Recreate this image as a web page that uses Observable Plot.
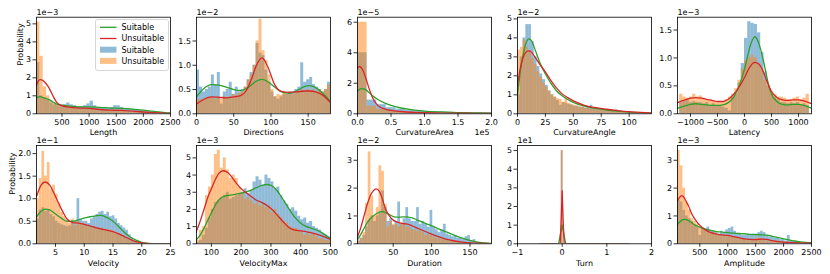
<!DOCTYPE html>
<html><head><meta charset="utf-8">
<script src="https://cdn.jsdelivr.net/npm/d3@7"></script>
<script src="https://cdn.jsdelivr.net/npm/@observablehq/plot@0.6"></script>
<style>
body{margin:0;background:#fff;}
#wrap{position:relative;width:830px;height:274px;font-family:"DejaVu Sans";overflow:hidden;background:#fff;}
#wrap svg{position:absolute;overflow:visible;}
</style></head><body><div id="wrap"></div>
<script>
// ---------- Series names ----------
const seriesNames = ["Suitable", "Unsuitable"];

// ---------- Length (×1e-3) ----------
const lengthBins = {lo: 30, w: 61.75};
const lengthSuitable = [2.85,1.0,0.9,0.75,0.6,0.5,0.45,0.45,0.5,0.6,0.5,0.45,0.4,0.4,0.45,0.55,0.7,0.45,0.35,0.35,0.35,0.3,0.35,0.45,0.45,0.35,0.3,0.3,0.25,0.22,0.2,0.18,0.15,0.12,0.1,0.1,0.08,0.06,0.05,0.04];
const lengthUnsuitable = [5.1,3.2,1.5,1.0,0.7,0.55,0.45,0.4,0.42,0.45,0.38,0.35,0.3,0.3,0.28,0.3,0.35,0.25,0.2,0.18,0.15,0.15,0.18,0.2,0.22,0.2,0.15,0.12,0.1,0.1,0.08,0.08,0.07,0.06,0.05,0.05,0.04,0.03,0.03,0.02];
const lengthKdeX = [30,60,100,150,200,250,300,350,400,500,600,700,800,1000,1200,1400,1600,1800,2000,2200,2400,2500];
const lengthKdeSuitable = [0.88,0.93,0.95,0.9,0.85,0.8,0.72,0.62,0.54,0.48,0.44,0.41,0.39,0.38,0.36,0.32,0.3,0.26,0.2,0.13,0.07,0.05];
const lengthKdeUnsuitable = [1.6,1.8,1.9,1.85,1.7,1.5,1.2,0.9,0.65,0.45,0.38,0.35,0.32,0.3,0.24,0.2,0.19,0.15,0.1,0.06,0.03,0.02];
const lengthXTicks = [500,1000,1500,2000,2500];
const lengthYTicks = [0,1,2,3,4,5];

// ---------- Directions (×1e-2) ----------
const directionsBins = {lo: 0, w: 4};
const directionsSuitable = [0.9,0.55,0.45,0.5,0.55,0.8,0.6,0.85,0.2,0.45,0.5,0.65,0.4,0.55,0.45,0.5,0.55,0.7,0.85,1.0,1.45,1.25,1.2,0.9,0.65,0.45,0.35,0.3,0.35,0.4,0.4,0.45,0.45,0.5,0.55,1.05,0.65,0.7,0.75,0.6,0.55,0.5,0.45,0.5,0.65];
const directionsUnsuitable = [0.3,0.28,0.3,0.32,0.33,0.35,0.3,0.35,0.3,0.35,0.33,0.35,0.4,0.38,0.42,0.45,0.55,0.7,0.8,1.0,1.5,1.95,1.3,1.1,0.8,0.5,0.35,0.4,0.38,0.42,0.4,0.45,0.4,0.45,0.45,0.5,0.45,0.5,0.48,0.5,0.45,0.5,0.45,0.5,0.6];
const directionsKdeX = [0,10,20,30,40,50,60,67,74,80,88,96,105,114,125,135,145,152,160,170,180];
const directionsKdeSuitable = [0.35,0.52,0.6,0.59,0.55,0.5,0.48,0.52,0.6,0.67,0.71,0.66,0.55,0.45,0.42,0.48,0.56,0.58,0.54,0.42,0.25];
const directionsKdeUnsuitable = [0.2,0.3,0.35,0.34,0.33,0.35,0.38,0.48,0.72,0.98,1.15,0.96,0.6,0.46,0.44,0.45,0.47,0.47,0.45,0.38,0.23];
const directionsXTicks = [0,50,100,150];
const directionsYTicks = [0,0.5,1.0,1.5];

// ---------- CurvatureArea (x ×1e5, y ×1e-5) ----------
const curvAreaBins = {lo: 0, w: 0.143};
const curvAreaSuitable = [4.0,0.9,0.6,0.4,0.3,0.22,0.18,0.15,0.12,0.1,0.08,0.07,0.06,0.05];
const curvAreaUnsuitable = [6.0,0.5,0.3,0.2,0.12,0.1,0.08,0.06,0.05,0.04,0.03,0.03,0.02,0.02];
const curvAreaKdeX = [0,0.03,0.075,0.12,0.17,0.22,0.3,0.4,0.5,0.65,0.8,1.0,1.25,1.5,1.75,2.0];
const curvAreaKdeSuitable = [1.48,1.6,1.65,1.58,1.4,1.2,0.95,0.72,0.55,0.38,0.27,0.18,0.12,0.08,0.06,0.05];
const curvAreaKdeUnsuitable = [3.0,3.1,2.9,2.4,1.7,1.1,0.55,0.32,0.22,0.15,0.1,0.07,0.05,0.04,0.03,0.02];
const curvAreaXTicks = [0,0.5,1.0,1.5,2.0];
const curvAreaYTicks = [0,2,4,6];

// ---------- CurvatureAngle (×1e-2) ----------
const curvAngleBins = {lo: 0, w: 2.5};
const curvAngleSuitable = [1.0,3.0,4.0,4.7,4.7,3.8,3.0,2.5,2.1,1.8,1.5,1.2,1.0,0.85,0.7,0.45,0.6,0.55,0.5,0.45,0.4,0.4,0.35,0.35,0.3,0.35,0.45,0.3,0.25,0.25,0.2,0.2,0.18,0.15,0.15,0.2,0.12,0.1,0.1,0.08,0.08,0.06,0.05,0.05,0.04,0.03,0.03,0.02];
const curvAngleUnsuitable = [3.35,3.5,3.9,3.5,3.3,2.9,2.6,2.2,1.9,1.6,1.4,1.2,1.0,0.9,0.8,0.75,0.6,0.8,0.55,0.5,0.45,0.4,0.35,0.35,0.3,0.3,0.25,0.3,0.25,0.2,0.22,0.2,0.18,0.15,0.15,0.12,0.1,0.1,0.12,0.08,0.08,0.06,0.06,0.05,0.04,0.04,0.03,0.03];
const curvAngleKdeX = [0,2.5,5,7.5,10,12.5,15,20,25,30,35,40,45,50,60,70,80,90,100,110,120];
const curvAngleKdeSuitable = [1.0,2.2,3.1,3.7,3.95,3.85,3.5,2.7,2.1,1.6,1.2,0.95,0.75,0.6,0.4,0.28,0.2,0.14,0.09,0.05,0.03];
const curvAngleKdeUnsuitable = [1.5,2.4,2.95,3.25,3.32,3.25,3.05,2.6,2.2,1.75,1.35,1.05,0.85,0.68,0.45,0.32,0.24,0.17,0.11,0.07,0.04];
const curvAngleXTicks = [0,25,50,75,100];
const curvAngleYTicks = [0,1,2,3,4,5];

// ---------- Latency (×1e-3) ----------
const latencyBins = {lo: -1200, w: 60};
const latencySuitable = [0.2,0.22,0.25,0.2,0.22,0.2,0.2,0.18,0.2,0.15,0.18,0.15,0.15,0.12,0.1,0.05,0.3,0.35,0.55,0.9,1.35,1.65,1.62,1.6,1.45,1.1,0.75,0.5,0.35,0.3,0.25,0.2,0.2,0.18,0.2,0.18,0.2,0.15,0.18,0.15];
const latencyUnsuitable = [0.35,0.3,0.28,0.3,0.35,0.3,0.32,0.28,0.25,0.25,0.22,0.2,0.2,0.22,0.25,0.3,0.35,0.45,0.6,0.8,0.95,1.0,1.05,1.0,0.9,0.8,0.6,0.5,0.4,0.35,0.3,0.3,0.28,0.25,0.25,0.28,0.3,0.25,0.28,0.35];
const latencyKdeX = [-1240,-1100,-1000,-900,-800,-700,-600,-500,-400,-300,-200,-100,0,50,100,150,190,250,300,350,400,450,500,600,700,800,900,1000,1100,1240];
const latencyKdeSuitable = [0.1,0.14,0.17,0.18,0.17,0.16,0.15,0.15,0.16,0.2,0.3,0.5,0.8,1.0,1.2,1.33,1.38,1.3,1.15,0.95,0.72,0.5,0.35,0.22,0.17,0.16,0.17,0.17,0.15,0.1];
const latencyKdeUnsuitable = [0.2,0.25,0.28,0.29,0.28,0.26,0.24,0.22,0.22,0.26,0.35,0.48,0.65,0.75,0.84,0.9,0.92,0.9,0.85,0.75,0.62,0.5,0.4,0.29,0.25,0.24,0.25,0.25,0.23,0.18];
const latencyXTicks = [-1000,-500,0,500,1000];
const latencyYTicks = [0,0.5,1.0,1.5];

// ---------- Velocity (×1e-1) ----------
const velocityBins = {lo: 1.7, w: 0.47};
const velocitySuitable = [0.55,0.75,0.8,0.72,0.75,0.65,0.6,0.5,0.45,0.42,0.4,0.38,0.4,0.45,0.5,1.0,0.55,0.5,0.5,0.45,0.55,0.6,0.65,0.7,0.72,0.65,0.7,0.6,0.62,0.55,0.45,0.4,0.35,0.3,0.2,0.12,0.06,0.03,0.02,0.01,0,0,0,0,0,0];
const velocityUnsuitable = [1.0,1.45,2.05,1.5,1.8,1.2,1.3,1.1,0.9,0.7,0.6,0.5,0.45,0.55,0.4,0.5,0.45,0.45,0.4,0.38,0.35,0.38,0.35,0.33,0.35,0.3,0.32,0.3,0.28,0.25,0.22,0.2,0.15,0.12,0.1,0.06,0.04,0.02,0.01,0,0,0,0,0,0,0];
const velocityKdeX = [1.7,2.5,3.2,4,5,6,7,8,9,10,11,12,12.8,14,15,16,17,18,19,20,21,22,25];
const velocityKdeSuitable = [0.6,0.72,0.77,0.75,0.66,0.57,0.5,0.5,0.53,0.57,0.6,0.62,0.63,0.58,0.5,0.38,0.25,0.15,0.08,0.03,0.01,0.005,0];
const velocityKdeUnsuitable = [1.05,1.3,1.37,1.3,1.05,0.78,0.55,0.47,0.46,0.43,0.4,0.36,0.33,0.3,0.27,0.22,0.16,0.1,0.05,0.02,0.01,0,0];
const velocityXTicks = [5,10,15,20,25];
const velocityYTicks = [0,0.5,1.0,1.5,2.0];

// ---------- VelocityMax (×1e-3) ----------
const velMaxBins = {lo: 50, w: 10};
const velMaxSuitable = [0.1,0.2,0.5,0.9,1.5,2.0,2.4,2.5,2.7,2.8,3.0,2.6,2.7,2.8,2.9,3.0,3.2,2.9,3.1,3.6,3.9,3.7,3.4,4.0,3.8,3.6,3.2,3.3,2.8,2.5,2.3,2.0,2.1,1.9,1.6,1.4,1.5,1.2,1.3,1.0,0.9,0.8,0.6,0.5,0.4];
const velMaxUnsuitable = [0.2,0.8,1.0,2.8,3.3,4.0,5.2,5.45,4.4,5.0,4.3,3.8,4.0,3.8,3.3,3.0,2.6,2.7,2.5,2.3,2.4,2.2,2.3,2.1,2.2,1.8,2.0,1.7,1.5,1.3,1.2,1.0,0.9,0.9,0.8,0.7,0.5,0.6,0.5,0.6,0.4,0.3,0.3,0.2,0.2];
const velMaxKdeX = [50,60,75,90,100,115,125,140,155,170,185,200,215,230,250,270,285,300,320,340,360,380,400,420,440,460,480,500];
const velMaxKdeSuitable = [0.25,0.45,0.9,1.45,1.8,2.3,2.55,2.75,2.82,2.85,2.9,2.95,3.0,3.1,3.25,3.4,3.45,3.4,3.1,2.6,2.05,1.55,1.2,1.0,0.88,0.75,0.55,0.3];
const velMaxKdeUnsuitable = [0.75,1.2,2.0,2.8,3.2,3.8,4.1,4.25,4.15,3.85,3.5,3.2,3.0,2.8,2.55,2.4,2.25,2.05,1.7,1.3,0.95,0.8,0.75,0.7,0.62,0.52,0.4,0.25];
const velMaxXTicks = [100,200,300,400,500];
const velMaxYTicks = [0,1,2,3,4,5];

// ---------- Duration (×1e-2) ----------
const durationBins = {lo: 3.5, w: 3.5};
const durationSuitable = [0.1,0.2,0.3,0.6,0.85,1.0,0.8,1.0,1.1,1.9,1.3,0.8,0.9,0.65,0.8,1.5,0.7,0.9,1.3,0.9,0.8,0.8,1.3,0.7,0.8,0.7,0.6,1.2,0.6,0.5,0.4,0.5,0.7,0.35,0.3,0.25,0.3,0.2,0.2,0.15,0.25,0.3,0.1,0.15,0.05,0.03,0.02,0.01,0,0];
const durationUnsuitable = [0.1,0.2,0.4,1.45,3.3,1.7,1.0,1.3,2.8,2.6,1.4,0.6,0.8,0.7,0.7,0.6,0.75,0.7,0.6,0.6,0.5,0.5,0.45,0.5,0.4,0.3,0.35,0.3,0.25,0.2,0.2,0.15,0.15,0.12,0.1,0.1,0.08,0.06,0.05,0.05,0.04,0.03,0.03,0.02,0.02,0.01,0.01,0,0,0];
const durationKdeX = [3.5,8,12,16,20,24,28,32,36,40,45,50,55,60,65,70,75,80,90,100,110,120,130,140,150,160,170,178];
const durationKdeSuitable = [0.15,0.35,0.55,0.75,0.9,1.0,1.08,1.14,1.16,1.12,1.05,0.98,0.96,0.96,0.97,0.96,0.93,0.87,0.75,0.65,0.53,0.42,0.3,0.2,0.12,0.06,0.03,0.01];
const durationKdeUnsuitable = [0.25,0.6,1.0,1.4,1.72,1.9,1.97,1.88,1.6,1.25,1.0,0.85,0.78,0.74,0.72,0.7,0.64,0.58,0.46,0.35,0.25,0.16,0.1,0.06,0.03,0.02,0.01,0];
const durationXTicks = [50,100,150];
const durationYTicks = [0,1,2,3];

// ---------- Turn (×1e1) ----------
const turnBins = {lo: -0.02, w: 0.04};
const turnSuitable = [5.0];
const turnUnsuitable = [5.0];
const turnKdeX = [-0.5,-0.08,-0.04,0,0.04,0.08,1.5];
const turnKdeSuitable = [0,0,0.5,1.0,0.5,0,0];
const turnKdeXU = [-0.5,-0.045,-0.02,0,0.02,0.045,1.5];
const turnKdeUnsuitable = [0,0,1.4,2.85,1.4,0,0];
const turnXTicks = [-1,0,1,2];
const turnYTicks = [0,1,2,3,4,5];

// ---------- Amplitude (×1e-3) ----------
const amplitudeBins = {lo: 100, w: 48};
const amplitudeSuitable = [1.55,1.5,1.2,1.0,0.9,0.8,0.65,0.6,0.3,0.55,0.5,0.6,0.45,0.45,0.4,0.35,0.45,0.4,0.5,0.55,0.6,0.45,0.35,0.35,0.3,0.3,0.35,0.3,0.35,0.35,0.4,0.45,0.4,0.3,0.25,0.25,0.2,0.2,0.15,0.15,0.1,0.3,0.1,0.08,0.06,0.05,0.04,0.03,0.02,0.01];
const amplitudeUnsuitable = [3.35,2.8,2.0,1.5,1.2,0.9,0.8,0.7,0.6,0.55,0.5,0.45,0.4,0.4,0.35,0.3,0.3,0.3,0.25,0.3,0.25,0.25,0.2,0.2,0.2,0.15,0.15,0.15,0.15,0.2,0.2,0.2,0.15,0.1,0.1,0.1,0.1,0.1,0.08,0.08,0.05,0.05,0.05,0.04,0.03,0.03,0.02,0.02,0.02,0.01];
const amplitudeKdeX = [100,150,180,220,260,300,350,400,450,500,600,700,800,900,1000,1100,1200,1300,1400,1500,1600,1700,1800,1900,2000,2100,2200,2300,2400,2500];
const amplitudeKdeSuitable = [0.7,0.8,0.85,0.88,0.87,0.83,0.76,0.69,0.64,0.6,0.53,0.48,0.44,0.42,0.4,0.38,0.37,0.36,0.34,0.33,0.32,0.31,0.27,0.22,0.18,0.14,0.1,0.07,0.05,0.04];
const amplitudeKdeUnsuitable = [1.55,1.7,1.73,1.65,1.5,1.35,1.1,0.92,0.78,0.66,0.5,0.4,0.35,0.32,0.3,0.26,0.22,0.18,0.16,0.15,0.17,0.16,0.11,0.08,0.06,0.05,0.04,0.03,0.02,0.02];
const amplitudeXTicks = [500,1000,1500,2000,2500];
const amplitudeYTicks = [0,1,2,3];

// ---------- Panel definitions ----------
const fInt = d3.format("d"), f1 = d3.format(".1f");
const panels = [
  {label:"Length", xd:[30,2500], xt:lengthXTicks, xf:fInt, ymax:5.37, yt:lengthYTicks, yf:fInt, yoff:"1e\u22123", bins:lengthBins, s:lengthSuitable, u:lengthUnsuitable, kx:lengthKdeX, ks:lengthKdeSuitable, ku:lengthKdeUnsuitable, ylabel:true},
  {label:"Directions", xd:[0,180], xt:directionsXTicks, xf:fInt, ymax:1.99, yt:directionsYTicks, yf:f1, yoff:"1e\u22122", bins:directionsBins, s:directionsSuitable, u:directionsUnsuitable, kx:directionsKdeX, ks:directionsKdeSuitable, ku:directionsKdeUnsuitable},
  {label:"CurvatureArea", xd:[0,2.0], xt:curvAreaXTicks, xf:f1, xoff:"1e5", ymax:6.33, yt:curvAreaYTicks, yf:fInt, yoff:"1e\u22125", bins:curvAreaBins, s:curvAreaSuitable, u:curvAreaUnsuitable, kx:curvAreaKdeX, ks:curvAreaKdeSuitable, ku:curvAreaKdeUnsuitable},
  {label:"CurvatureAngle", xd:[0,120], xt:curvAngleXTicks, xf:fInt, ymax:5.09, yt:curvAngleYTicks, yf:fInt, yoff:"1e\u22122", bins:curvAngleBins, s:curvAngleSuitable, u:curvAngleUnsuitable, kx:curvAngleKdeX, ks:curvAngleKdeSuitable, ku:curvAngleKdeUnsuitable},
  {label:"Latency", xd:[-1240,1240], xt:latencyXTicks, xf:fInt, ymax:1.73, yt:latencyYTicks, yf:f1, yoff:"1e\u22123", bins:latencyBins, s:latencySuitable, u:latencyUnsuitable, kx:latencyKdeX, ks:latencyKdeSuitable, ku:latencyKdeUnsuitable},
  {label:"Velocity", xd:[1.7,25], xt:velocityXTicks, xf:fInt, ymax:2.18, yt:velocityYTicks, yf:f1, yoff:"1e\u22121", bins:velocityBins, s:velocitySuitable, u:velocityUnsuitable, kx:velocityKdeX, ks:velocityKdeSuitable, ku:velocityKdeUnsuitable, ylabel:true},
  {label:"VelocityMax", xd:[50,500], xt:velMaxXTicks, xf:fInt, ymax:5.72, yt:velMaxYTicks, yf:fInt, yoff:"1e\u22123", bins:velMaxBins, s:velMaxSuitable, u:velMaxUnsuitable, kx:velMaxKdeX, ks:velMaxKdeSuitable, ku:velMaxKdeUnsuitable},
  {label:"Duration", xd:[3.5,178], xt:durationXTicks, xf:fInt, ymax:3.53, yt:durationYTicks, yf:fInt, yoff:"1e\u22122", bins:durationBins, s:durationSuitable, u:durationUnsuitable, kx:durationKdeX, ks:durationKdeSuitable, ku:durationKdeUnsuitable},
  {label:"Turn", xd:[-1,2], xt:turnXTicks, xf:fInt, ymax:5.27, yt:turnYTicks, yf:fInt, yoff:"1e1", bins:turnBins, s:turnSuitable, u:turnUnsuitable, kx:turnKdeX, ks:turnKdeSuitable, kxu:turnKdeXU, ku:turnKdeUnsuitable, linear:true},
  {label:"Amplitude", xd:[100,2500], xt:amplitudeXTicks, xf:fInt, ymax:3.53, yt:amplitudeYTicks, yf:fInt, yoff:"1e\u22123", bins:amplitudeBins, s:amplitudeSuitable, u:amplitudeUnsuitable, kx:amplitudeKdeX, ks:amplitudeKdeSuitable, ku:amplitudeKdeUnsuitable}
];

const wrap = document.getElementById("wrap");
const BLUE = "#1f77b4", ORANGE = "#ff7f0e", GREEN = "#2ca02c", RED = "#d62728";

panels.forEach((p, idx) => {
  const row = idx < 5 ? 0 : 1, col = idx % 5;
  const frameLeft = 36 + 160.25 * col;
  const ML = 36, MR = 14, FW = 134;
  const frameTop = row === 0 ? 16.7 : 145;
  const FH = row === 0 ? 96.6 : 98.3;
  const svgTop = row === 0 ? 0 : 128;
  const MT = frameTop - svgTop, MB = 30;
  const binsOf = arr => arr.map((v, i) => ({x1: p.bins.lo + i * p.bins.w, x2: p.bins.lo + (i + 1) * p.bins.w, y: v}));
  const kdeOf = (xs, ys) => xs.map((x, i) => ({x, y: ys[i]}));
  const curve = p.linear ? "linear" : "monotone-x";
  const marks = [
    Plot.rect(binsOf(p.s), {x1: "x1", x2: "x2", y1: 0, y2: "y", fill: BLUE, fillOpacity: 0.5, clip: true}),
    Plot.rect(binsOf(p.u), {x1: "x1", x2: "x2", y1: 0, y2: "y", fill: ORANGE, fillOpacity: 0.5, clip: true}),
    Plot.line(kdeOf(p.kx, p.ks), {x: "x", y: "y", stroke: GREEN, strokeWidth: 1.3, curve, clip: true}),
    Plot.line(kdeOf(p.kxu || p.kx, p.ku), {x: "x", y: "y", stroke: RED, strokeWidth: 1.3, curve, clip: true}),
    Plot.frame({stroke: "black", strokeWidth: 0.8}),
    Plot.axisX({ticks: p.xt, tickFormat: p.xf, tickSize: 3.5, tickPadding: 2, label: null, strokeWidth: 0.8}),
    Plot.axisY({ticks: p.yt, tickFormat: p.yf, tickSize: 3.5, tickPadding: 2, label: null, strokeWidth: 0.8}),
    Plot.text([p.label], {frameAnchor: "bottom", dy: row === 0 ? 19 : 20, text: d => d, lineAnchor: "middle", fill: "black"}),
    Plot.text([p.yoff], {frameAnchor: "top-left", dy: -5, textAnchor: "start", lineAnchor: "middle", text: d => d, fill: "black"})
  ];
  if (p.xoff) marks.push(Plot.text([p.xoff], {frameAnchor: "bottom-right", dy: 19, dx: -2, textAnchor: "end", lineAnchor: "middle", text: d => d, fill: "black"}));
  if (p.ylabel) marks.push(Plot.text(["Probability"], {frameAnchor: "left", dx: row === 0 ? -16 : -24, rotate: -90, lineAnchor: "middle", text: d => d, fill: "black"}));
  const svg = Plot.plot({
    width: ML + FW + MR, height: MT + FH + MB,
    marginLeft: ML, marginRight: MR, marginTop: MT, marginBottom: MB,
    style: {fontFamily: "DejaVu Sans", fontSize: "8px", color: "black", background: "transparent", overflow: "visible"},
    x: {domain: p.xd},
    y: {domain: [0, p.ymax]},
    marks
  });
  svg.style.left = (frameLeft - ML) + "px";
  svg.style.top = svgTop + "px";
  wrap.appendChild(svg);
});

// ---------- Legend (first panel) ----------
const legendItems = [
  {name: seriesNames[0], kind: "line", color: GREEN},
  {name: seriesNames[1], kind: "line", color: RED},
  {name: seriesNames[0], kind: "patch", color: BLUE},
  {name: seriesNames[1], kind: "patch", color: ORANGE}
];
const lg = d3.create("svg").attr("width", 74).attr("height", 52)
  .style("left", "95px").style("top", "19px").style("font-family", "DejaVu Sans").style("font-size", "8px");
lg.append("rect").attr("x", 0.5).attr("y", 0.5).attr("width", 73).attr("height", 51).attr("rx", 2)
  .attr("fill", "rgba(255,255,255,0.8)").attr("stroke", "#cccccc").attr("stroke-width", 0.8);
legendItems.forEach((it, i) => {
  const cy = 8.3 + i * 11.2;
  if (it.kind === "line") {
    lg.append("line").attr("x1", 5).attr("x2", 21.5).attr("y1", cy).attr("y2", cy).attr("stroke", it.color).attr("stroke-width", 1.3);
  } else {
    lg.append("rect").attr("x", 5).attr("y", cy - 3).attr("width", 16.5).attr("height", 6).attr("fill", it.color).attr("fill-opacity", 0.5);
  }
  lg.append("text").attr("x", 26.5).attr("y", cy).attr("dy", "0.35em").attr("fill", "black").text(it.name);
});
wrap.appendChild(lg.node());
</script>
</body></html>
